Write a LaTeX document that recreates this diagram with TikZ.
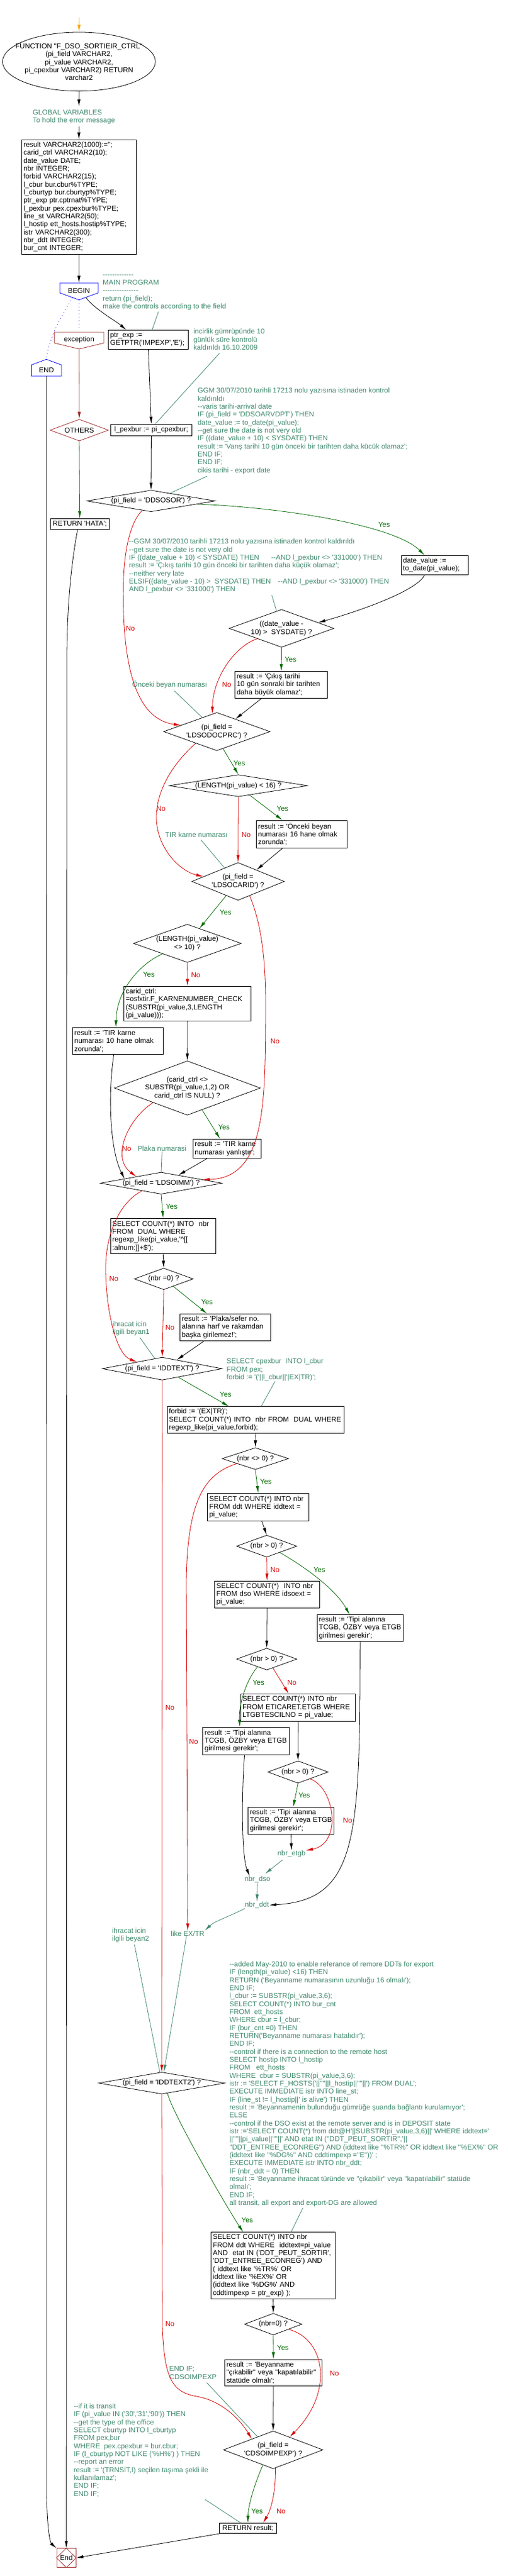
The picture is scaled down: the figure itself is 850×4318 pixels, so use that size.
\documentclass[tikz,border=0pt]{standalone}
\usepackage{fontspec}
\setmainfont{Liberation Sans}[Ligatures=TeXOff]
\usetikzlibrary{shapes.geometric,arrows.meta,calc}
\newcommand{\pxu}{0.75pt}
\definecolor{cmtgreen}{RGB}{62,136,108}
\definecolor{yesgreen}{RGB}{0,105,0}
\definecolor{nored}{RGB}{215,0,0}
\definecolor{exred}{RGB}{158,42,42}
\definecolor{startorange}{RGB}{255,165,0}

\begin{document}
\begin{tikzpicture}[
		x=0.75pt, y=-0.75pt, line width=0.6pt,
		font=\fontsize{8.9}{10}\selectfont,
		process/.style={rectangle, draw, inner xsep=2.25pt, inner ysep=1pt, align=left},
		box/.style n args={3}{process, minimum width=#1*\pxu, minimum height=#2*\pxu, text width=#3},
		box1/.style 2 args={process, align=center, minimum width=#1*\pxu, minimum height=#2*\pxu},
		decision/.style n args={3}{diamond, draw, inner sep=0pt, align=center,
			minimum width=#1*\pxu, minimum height=#2*\pxu, aspect=#3},
		comment/.style={text=cmtgreen, inner sep=0pt, align=left, anchor=north west},
		cmtnode/.style={text=cmtgreen, inner sep=0pt},
		cmtline/.style={draw=cmtgreen},
		dotline/.style={draw=blue, dash pattern=on 0.8pt off 3.5pt},
		arr/.style={-{Latex[length=9pt,width=4pt]}},
		yesarr/.style={arr, draw=yesgreen},
		noarr/.style={arr, draw=nored},
		yeslabel/.style={text=yesgreen, inner sep=0pt},
		nolabel/.style={text=nored, inner sep=0pt}
	]
  \useasboundingbox (0,0) rectangle (850,4318);

  % header and declarations
  \coordinate (start) at (132.8,29);
  \node (func) [ellipse, draw, minimum width=256*\pxu, minimum height=98.7*\pxu] at (132.3,103.3) {};
  \node (func_label) [align=center] at (132.3,104) {FUNCTION "F\_DSO\_SORTIEIR\_CTRL"\\(pi\_field VARCHAR2,\\pi\_value VARCHAR2,\\pi\_cpexbur VARCHAR2) RETURN\\varchar2};
  \node (globals) [comment] at (54.5,182.5) {\strut GLOBAL VARIABLES\\To hold the error message};
  \node (vars) [box={191.9}{191.7}{139.4pt}] at (132.25,330.15) {result VARCHAR2(1000):='';\\carid\_ctrl VARCHAR2(10);\\date\_value DATE;\\nbr INTEGER;\\forbid VARCHAR2(15);\\l\_cbur bur.cbur\%TYPE;\\l\_cburtyp bur.cburtyp\%TYPE;\\ptr\_exp ptr.cptrnat\%TYPE;\\l\_pexbur pex.cpexbur\%TYPE;\\line\_st VARCHAR2(50);\\l\_hostip~ett\_hosts.hostip\%TYPE;\\istr VARCHAR2(300);\\nbr\_ddt INTEGER;\\bur\_cnt INTEGER;};

  % begin, exception, end
  \node (begin) at (132.3,487) {BEGIN};
  \coordinate (begin_n) at (132.3,474.3);
  \coordinate (begin_s) at (132.3,502.7);
  \coordinate (begin_l) at (122,498.9);
  \coordinate (begin_r) at (143.7,498.5);
  \draw[blue] (100.3,474.3) -- (164.3,474.3) -- (164.3,491) -- (begin_s) -- (100.3,491) -- cycle;
  \node (maincmt) [comment] at (171.8,454.5) {\strut-------------\\MAIN PROGRAM\\---------------\\return (pi\_field);\\make the controls according to the field};
  \node (exception) at (132.5,569) {exception};
  \coordinate (exc_n) at (132.5,557);
  \coordinate (exc_s) at (132.5,585);
  \draw[exred] (91.1,557) -- (174,557) -- (174,575) -- (exc_s) -- (91.1,575) -- cycle;
  \node (endp) at (77.8,620) {END};
  \coordinate (endp_n) at (77.8,602.3);
  \coordinate (endp_s) at (77.8,630.3);
  \draw[blue] (endp_n) -- (103,611.7) -- (103,630.3) -- (52.6,630.3) -- (52.6,611.7) -- cycle;
  \node (others) [decision={97.6}{36.3}{2.69}, draw=exred] at (132.8,721) {OTHERS};
  \node (rethata) [box1={99.2}{18}] at (133.6,878.3) {RETURN 'HATA';};

  % main program
  \node (ptrexp) [box={133.9}{32.4}{95.9pt}] at (248.55,569.5) {ptr\_exp :=\\GETPTR('IMPEXP','E');};
  \node (incirlik) [comment] at (323.6,550.2) {\strut incirlik gümrüpünde 10\\günlük süre kontrolü\\kaldırıldı 16.10.2009};
  \node (pexbur) [box1={136.1}{19}] at (253.45,720.5) {l\_pexbur := pi\_cpexbur;};
  \node (ggm) [comment] at (330.7,649.2) {\strut GGM 30/07/2010 tarihli 17213 nolu yazısına istinaden kontrol\\kaldırıldı\\--varis tarihi-arrival date\\IF (pi\_field = 'DDSOARVDPT') THEN\\date\_value := to\_date(pi\_value);\\--get sure the date is not very old\\IF ((date\_value + 10) < SYSDATE) THEN\\result := 'Varış tarihi 10 gün önceki bir tarihten daha kücük olamaz';\\END IF;\\END IF;\\cikis tarihi - export date};
  \node (ddsosor) [decision={215.2}{36}{5.98}] at (253,839.7) {(pi\_field = 'DDSOSOR') ?};
  \node (datevalue) [box={112.2}{32.3}{79.65pt}] at (728.3,947.15) {date\_value :=\\to\_date(pi\_value);};
  \node (ggm2) [comment] at (215.8,902.2) {\strut--GGM 30/07/2010 tarihli 17213 nolu yazısına istinaden kontrol kaldırıldı\\--get sure the date is not very old\\IF ((date\_value + 10) < SYSDATE) THEN\hspace{15pt}--AND l\_pexbur <> '331000') THEN\\result := 'Çıkış tarihi 10 gün önceki bir tarihten daha küçük olamaz';\\--neither very late\\ELSIF((date\_value - 10) >\ \ SYSDATE) THEN\hspace{9pt}--AND l\_pexbur <> '331000') THEN\\AND l\_pexbur <> '331000') THEN};
  \node (date10) [decision={175.6}{63.4}{2.77}] at (471.6,1053.3) {((date\_value -\\10) >\ \ SYSDATE) ?};
  \node (res1) [box={155.2}{44.3}{111.9pt}] at (471.1,1147.85) {result := 'Çıkış tarihi\\10~gün~sonraki~bir~tarihten\\daha büyük olamaz';};
  \node (onceki) [cmtnode] at (284.3,1147.7) {Önceki beyan numarası};
  \node (docprc) [decision={178.2}{64}{2.78}] at (363.2,1226.3) {(pi\_field =\\'LDSODOCPRC') ?};
  \node (len16) [decision={231.9}{36.7}{6.32}] at (399.3,1317) {(LENGTH(pi\_value) < 16) ?};
  \node (res2) [box={151.5}{46.7}{109.1pt}] at (505.15,1398.35) {result := 'Önceki beyan\\numarası~16~hane~olmak\\zorunda';};
  \node (tir) [cmtnode] at (329,1399) {TIR karne numarası};
  \node (carid) [decision={154.8}{63.3}{2.45}] at (398.8,1477.5) {(pi\_field =\\'LDSOCARID') ?};
  \node (len10) [decision={180.5}{64}{2.82}] at (313.8,1581.3) {(LENGTH(pi\_value)\\<> 10) ?};
  \node (caridbox) [box={213}{58.4}{155.25pt}] at (314.1,1682.5) {carid\_ctrl:\\=osfxtir.F\_KARNENUMBER\_CHECK\\(SUBSTR(pi\_value,3,LENGTH\\(pi\_value)));};
  \node (res3) [box={152}{45}{109.5pt}] at (197.7,1745.2) {result := 'TIR karne\\numarası~10~hane~olmak\\zorunda';};
  \node (caridchk) [decision={244.7}{91}{2.69}] at (313.8,1823.8) {(carid\_ctrl <>\\SUBSTR(pi\_value,1,2) OR\\carid\_ctrl IS NULL) ?};
  \node (res4) [box={113.9}{32.4}{80.9pt}] at (380.25,1925.5) {result~:=~'TIR~karne\\numarası~yanlıştır';};
  \node (plaka) [cmtnode] at (271.4,1925.7) {Plaka numarasi};
  \node (imm) [decision={203.9}{36.7}{5.56}] at (270,1983.3) {(pi\_field = 'LDSOIMM') ?};
  \node (regbox) [box={176.3}{59.4}{127.7pt}] at (273.25,2072) {SELECT COUNT(*) INTO\ \ nbr\\FROM\ \ DUAL WHERE\\regexp\_like(pi\_value,'\textasciicircum[[\\:alnum:]]+\$');};
  \node (nbr0) [decision={98.7}{36}{2.74}] at (274.3,2143.7) {(nbr =0) ?};
  \node (res5) [box={152}{45}{109.5pt}] at (377.7,2224.8) {result := 'Plaka/sefer no.\\alanına~harf~ve~rakamdan\\başka girilemez!';};
  \node (ihr1) [comment] at (188.3,2213.5) {\strut ihracat icin\\ilgili beyan1};
  \node (iddtext) [decision={200.7}{38.3}{5.24}] at (271.7,2294.2) {(pi\_field = 'IDDTEXT') ?};
  \node (cpex) [comment] at (379.3,2276.2) {\strut SELECT cpexbur\ \ INTO l\_cbur\\FROM pex;\\forbid := '('||l\_cbur||'|EX|TR)';};
  \node (forbidbox) [box={296.2}{44.6}{217.65pt}] at (428.2,2380) {forbid := '(EX|TR)';\\SELECT~COUNT(*)~INTO\ \ nbr~FROM\ \ DUAL~WHERE\\regexp\_like(pi\_value,forbid);};
  \node (nbrne0) [decision={111.5}{36.6}{3.05}] at (427.8,2445) {(nbr <> 0) ?};
  \node (ddtbox) [box={169.9}{46}{122.9pt}] at (432.55,2526.3) {SELECT COUNT(*) INTO nbr\\FROM ddt WHERE iddtext =\\pi\_value;};
  \node (gt1) [decision={101}{36.7}{2.75}] at (446.8,2591.7) {(nbr > 0) ?};
  \node (dsobox) [box={175.4}{45}{127.05pt}] at (447.3,2672.5) {SELECT COUNT(*)\ \ INTO nbr\\FROM dso WHERE idsoext =\\pi\_value;};
  \node (tipiA) [box={143.7}{44.3}{103.3pt}] at (603.15,2728.85) {result := 'Tipi alanına\\TCGB,~ÖZBY~veya~ETGB\\girilmesi gerekir';};
  \node (gt2) [decision={101}{36.6}{2.75}] at (446.8,2781) {(nbr > 0) ?};
  \node (etgbbox) [box={192.4}{45.7}{139.8pt}] at (499.4,2862.15) {SELECT COUNT(*) INTO nbr\\FROM~ETICARET.ETGB~WHERE\\LTGBTESCILNO = pi\_value;};
  \node (tipiB) [box={144.7}{46.7}{104pt}] at (412.15,2918.35) {result := 'Tipi alanına\\TCGB,~ÖZBY~veya~ETGB\\girilmesi gerekir';};
  \node (gt3) [decision={101.1}{37.3}{2.71}] at (499.2,2970.3) {(nbr > 0) ?};
  \node (tipiC) [box={143.7}{45}{103.3pt}] at (487.45,3051.8) {result := 'Tipi alanına\\TCGB,~ÖZBY~veya~ETGB\\girilmesi gerekir';};
  \node (nbretgb) [cmtnode] at (488.3,3107.7) {nbr\_etgb};
  \node (nbrdso) [cmtnode] at (431.2,3150.7) {nbr\_dso};
  \node (nbrddt) [cmtnode] at (430.5,3193.3) {nbr\_ddt};
  \node (likeextr) [cmtnode] at (314.5,3241) {like EX/TR};
  \node (ihr2) [comment] at (187.4,3230.5) {\strut ihracat icin\\ilgili beyan2};
  \node (iddtext2) [decision={211.2}{36.7}{5.75}] at (271,3491.7) {(pi\_field = 'IDDTEXT2') ?};
  \node (added) [comment] at (383.9,3286.8) {\strut--added May-2010 to enable referance of remore DDTs for export\\IF (length(pi\_value) <16) THEN\\RETURN ('Beyanname numarasının uzunluğu 16 olmalı');\\END IF;\\l\_cbur := SUBSTR(pi\_value,3,6);\\SELECT COUNT(*) INTO bur\_cnt\\FROM\ \ ett\_hosts\\WHERE cbur = l\_cbur;\\IF (bur\_cnt =0) THEN\\RETURN('Beyanname numarası hatalıdır');\\END IF;\\--control if there is a connection to the remote host\\SELECT hostip INTO l\_hostip\\FROM\ \ \ ett\_hosts\\WHERE\ \ cbur = SUBSTR(pi\_value,3,6);\\istr := 'SELECT F\_HOSTS('||''''||l\_hostip||''''||') FROM DUAL';\\EXECUTE IMMEDIATE istr INTO line\_st;\\IF (line\_st != l\_hostip||' is alive') THEN\\result := 'Beyannamenin bulunduğu gümrüğe şuanda bağlantı kurulamıyor';\\ELSE\\--control if the DSO exist at the remote server and is in DEPOSIT state\\istr :='SELECT COUNT(*) from ddt@H'||SUBSTR(pi\_value,3,6)||' WHERE iddtext='\\||''''||pi\_value||''''||' AND etat IN (''DDT\_PEUT\_SORTIR'','||\\''DDT\_ENTREE\_ECONREG'') AND (iddtext like ''\%TR\%'' OR iddtext like ''\%EX\%'' OR\\(iddtext like ''\%DG\%'' AND cddtimpexp =''E''))' ;\\EXECUTE IMMEDIATE istr INTO nbr\_ddt;\\IF (nbr\_ddt = 0) THEN\\result := 'Beyanname ihracat türünde ve "çıkabilir" veya "kapatılabilir" statüde\\olmalı';\\END IF;\\all transit, all export and export-DG are allowed};
  \node (bigbox) [box={208}{111.6}{151.5pt}] at (457.6,3797.5) {SELECT COUNT(*) INTO nbr\\FROM~ddt~WHERE\ \ iddtext=pi\_value\\AND\ \ etat~IN~('DDT\_PEUT\_SORTIR',\\'DDT\_ENTREE\_ECONREG')~AND\\( iddtext like '\%TR\%' OR\\iddtext like '\%EX\%' OR\\(iddtext like '\%DG\%' AND\\cddtimpexp = ptr\_exp) );};
  \node (nbr0b) [decision={96.4}{36.3}{2.66}] at (457.8,3895.8) {(nbr=0) ?};
  \node (res6) [box={163.1}{44.3}{117.8pt}] at (458.05,3977.15) {result := 'Beyanname\\"çıkabilir"~veya~"kapatılabilir"\\statüde olmalı';};
  \node (endif) [comment] at (283.3,3965.2) {\strut END IF;\\CDSOIMPEXP};
  \node (cdso) [decision={166.8}{63.3}{2.64}] at (457.6,4106.5) {(pi\_field =\\'CDSOIMPEXP') ?};
  \node (transit) [comment] at (123.1,4027.8) {\strut--if it is transit\\IF (pi\_value IN ('30','31','90')) THEN\\--get the type of the office\\SELECT cburtyp INTO l\_cburtyp\\FROM pex,bur\\WHERE\ \ pex.cpexbur = bur.cbur;\\IF (l\_cburtyp NOT LIKE ('\%H\%') ) THEN\\--report an error\\result := '(TRNSİT,I) seçilen taşıma şekli ile\\kullanılamaz';\\END IF;\\END IF;};
  \node (retres) [box1={95.5}{17.4}] at (415.15,4238) {RETURN result;};
  \node (finish) [rectangle, draw=exred, minimum width=32.2*\pxu, minimum height=31.6*\pxu, inner sep=0pt] at (111.1,4287.5) {End};
  \draw[exred] (finish.north) -- (finish.east) -- (finish.south) -- (finish.west) -- cycle;

  % yes / no labels
  \node (y1) [yeslabel] at (643.5,879) {Yes};
  \node (y2) [yeslabel] at (486.8,1105.7) {Yes};
  \node (y3) [yeslabel] at (400.9,1279) {Yes};
  \node (y4) [yeslabel] at (473.4,1355.7) {Yes};
  \node (y5) [yeslabel] at (377.9,1529.3) {Yes};
  \node (y6) [yeslabel] at (249.3,1633.3) {Yes};
  \node (y7) [yeslabel] at (375.2,1889.3) {Yes};
  \node (y8) [yeslabel] at (287.5,2022.7) {Yes};
  \node (y9) [yeslabel] at (346.7,2182.7) {Yes};
  \node (y10) [yeslabel] at (377.9,2337.7) {Yes};
  \node (y11) [yeslabel] at (445.4,2483.3) {Yes};
  \node (y12) [yeslabel] at (535,2631) {Yes};
  \node (y13) [yeslabel] at (433,2820) {Yes};
  \node (y14) [yeslabel] at (509.7,3009.3) {Yes};
  \node (y15) [yeslabel] at (414.2,3721.7) {Yes};
  \node (y16) [yeslabel] at (473.9,3935) {Yes};
  \node (y17) [yeslabel] at (430.7,4209.3) {Yes};
  \node (n1) [nolabel] at (218.5,1053.3) {No};
  \node (n2) [nolabel] at (379.8,1147.7) {No};
  \node (n3) [nolabel] at (412.4,1399) {No};
  \node (n4) [nolabel] at (269.6,1355.7) {No};
  \node (n5) [nolabel] at (460.6,1745.7) {No};
  \node (n6) [nolabel] at (327.9,1634) {No};
  \node (n7) [nolabel] at (212.2,1925.7) {No};
  \node (n8) [nolabel] at (190.6,2143.3) {No};
  \node (n9) [nolabel] at (284.7,2225.7) {No};
  \node (n10) [nolabel] at (460.6,2631) {No};
  \node (n11) [nolabel] at (489,2820) {No};
  \node (n12) [nolabel] at (582.3,3051.7) {No};
  \node (n13) [nolabel] at (324.2,2919) {No};
  \node (n14) [nolabel] at (284.7,2862.7) {No};
  \node (n15) [nolabel] at (560.2,3978.3) {No};
  \node (n16) [nolabel] at (284.7,3895.7) {No};
  \node (n17) [nolabel] at (470.7,4209.3) {No};

  % connectors
  \draw[arr, draw=startorange] (start) -- (func.north);
  \draw[arr] (func.south) -- ($(func.south |- globals.north)+(0,-4)$);
  \draw[arr] ($(vars.north |- globals.south)+(0,4)$) -- (vars.north);
  \draw[arr] (vars.south) -- (begin_n);
  \draw[arr] (begin_r) .. controls (158,518) and (194,538) .. ($(ptrexp.north)+(-37.1,0)$);
  \draw[cmtline] ($(maincmt.south)+(-10,2)$) -- ($(ptrexp.north)+(6.25,0)$);
  \draw[dotline] (begin_l) .. controls (105,525) and (80,570) .. (endp_n);
  \draw[dotline] (begin_s) -- ($(exc_n)+(0,-4)$);
  \draw[arr, draw=exred] (exc_s) -- (others.north);
  \draw[yesarr] (others.south) -- (rethata.north);
  \draw[arr] (ptrexp.south) -- (pexbur.north);
  \draw[cmtline] ($(incirlik.south)+(-16,5)$) -- ($(pexbur.north)+(6.75,0)$);
  \draw[arr] (pexbur.south) -- (ddsosor.north);
  \draw[cmtline] ($(ggm.south west)+(16.3,3)$) -- (ddsosor.22);
  \draw[yesarr] (ddsosor.-4) .. controls (470,850) and (660,880) .. ($(datevalue.north)+(-17.1,0)$);
  \draw[noarr] (ddsosor.-133) .. controls (214,880) and (205,940) .. (206.5,1010) .. controls (208,1110) and (225,1205) .. (docprc.170);
  \draw[arr] ($(datevalue.south)+(-17.1,0)$) .. controls (700,990) and (600,1025) .. (date10.9);
  \draw[cmtline] ($(ggm2.south west)+(239.6,3)$) -- (date10.106);
  \draw[noarr] (date10.-157) .. controls (390,1085) and (356,1140) .. (docprc.104);
  \draw[yesarr] (date10.south) -- (res1.north);
  \draw[arr] ($(res1.south)+(-32.6,0)$) -- (docprc.34);
  \draw[cmtline] ($(onceki.south)+(8,4)$) -- (docprc.136);
  \draw[yesarr] (docprc.-70) -- (len16.north);
  \draw[noarr] (docprc.-151) .. controls (295,1275) and (262,1320) .. (262,1370) .. controls (262,1420) and (300,1460) .. (carid.172);
  \draw[yesarr] (len16.-40) -- ($(res2.north)+(-32.15,0)$);
  \draw[noarr] (len16.south) -- (carid.north);
  \draw[cmtline] ($(tir.south)+(7.6,4)$) -- (carid.135);
  \draw[arr] ($(res2.south)+(-32.15,0)$) -- (carid.32);
  \draw[yesarr] (carid.-130) -- (len10.51);
  \draw[noarr] (carid.-51) .. controls (436,1545) and (446,1600) .. (445,1700) .. controls (444,1850) and (445,1975) .. (imm.5);
  \draw[noarr] (len10.south) -- (caridbox.north);
  \draw[yesarr] (len10.-157) .. controls (235,1615) and (195,1660) .. ($(res3.north)+(-3.5,0)$);
  \draw[arr] (caridbox.south) -- (caridchk.north);
  \draw[arr] ($(res3.south)+(-7.1,0)$) .. controls (180,1840) and (185,1930) .. (imm.173);
  \draw[yesarr] (caridchk.-56) -- ($(res4.north)+(-11.55,0)$);
  \draw[noarr] (caridchk.-157) .. controls (215,1875) and (185,1940) .. (imm.165);
  \draw[cmtline] (plaka.south) -- (imm.north);
  \draw[arr] ($(res4.south)+(-33.55,0)$) -- (imm.25);
  \draw[yesarr] (imm.south) -- (regbox.north);
  \draw[noarr] (imm.-158) .. controls (200,2015) and (176,2070) .. (177,2130) .. controls (178,2200) and (195,2270) .. (iddtext.165);
  \draw[arr] (regbox.south) -- (nbr0.north);
  \draw[yesarr] (nbr0.-38) -- ($(res5.north)+(-31,0)$);
  \draw[noarr] (nbr0.south) -- (iddtext.north);
  \draw[arr] ($(res5.south)+(-35.6,0)$) -- (iddtext.31);
  \draw[cmtline] ($(ihr1.south)+(14.5,2.5)$) -- (iddtext.126);
  \draw[yesarr] (iddtext.-28) -- ($(forbidbox.north)+(-44.8,0)$);
  \draw[cmtline] (cpex.south) -- ($(forbidbox.north)+(9.4,0)$);
  \draw[arr] (forbidbox.south) -- (nbrne0.north);
  \draw[yesarr] (nbrne0.south) -- (ddtbox.north);
  \draw[noarr] (nbrne0.-165) .. controls (345,2470) and (314,2510) .. (312,2650) -- (likeextr.north);
  \draw[noarr] (iddtext.south) -- (iddtext2.north);
  \draw[arr] ($(ddtbox.south)+(6,0)$) -- (gt1.north);
  \draw[noarr] (gt1.south) -- (dsobox.north);
  \draw[yesarr] (gt1.-26) .. controls (500,2620) and (560,2660) .. ($(tipiA.north)+(-17.65,0)$);
  \draw[arr] (dsobox.south) -- (gt2.north);
  \draw[arr] (tipiA.south) .. controls (603,3080) and (600,3185) .. (nbrddt.east);
  \draw[noarr] (gt2.-55) -- ($(etgbbox.north)+(-15.9,0)$);
  \draw[yesarr] (gt2.-140) .. controls (410,2820) and (400,2860) .. ($(tipiB.north)+(-10.35,0)$);
  \draw[arr] (etgbbox.south) -- (gt3.north);
  \draw[yesarr] (gt3.south) -- ($(tipiC.north)+(3.8,0)$);
  \draw[noarr] (gt3.-30) .. controls (560,2995) and (575,3090) .. (nbretgb.north east);
  \draw[arr] (tipiC.south) -- (nbretgb.north);
  \draw[arr, draw=cmtgreen] ($(nbretgb.south)+(-15,4)$) -- ($(nbrdso.north)+(13,-4)$);
  \draw[arr] ($(tipiB.south)+(-2.55,0)$) .. controls (405,3000) and (404,3110) .. ($(nbrdso.north)+(-13,0)$);
  \draw[arr, draw=cmtgreen] (nbrdso.south) -- (nbrddt.north);
  \draw[arr, draw=cmtgreen] (nbrddt.south west) .. controls (385,3212) and (360,3220) .. (likeextr.north east);
  \draw[cmtline] ($(ihr2.south)+(6.4,3)$) -- ($(iddtext2.north)+(-3.3,0)$);
  \draw[arr, draw=cmtgreen] ($(likeextr.south)+(-2.2,0)$) -- ($(iddtext2.north)+(3.6,0)$);
  \draw[yesarr] (iddtext2.-61) .. controls (290,3545) and (380,3700) .. ($(bigbox.north)+(-50.3,0)$);
  \draw[cmtline] ($(added.south west)+(123.5,1.5)$) -- ($(bigbox.north)+(30.1,0)$);
  \draw[arr] (bigbox.south) -- (nbr0b.north);
  \draw[yesarr] (nbr0b.south) -- (res6.north);
  \draw[noarr] (nbr0b.-19) .. controls (545,3920) and (560,4010) .. (cdso.38);
  \draw[noarr] (iddtext2.south) -- (272,3900) .. controls (275,3990) and (290,4010) .. (330,4017) .. controls (375,4025) and (405,4060) .. (cdso.153);
  \draw[arr] (res6.south) -- (cdso.north);
  \draw[cmtline] ($(endif.south east)+(-17,5)$) -- (cdso.140);
  \draw[yesarr] (cdso.-124) .. controls (430,4155) and (416,4195) .. (retres.north);
  \draw[noarr] (cdso.-83) .. controls (462,4175) and (455,4205) .. ($(retres.north)+(25.65,0)$);
  \draw[cmtline] ($(transit.south east)+(-6,3.5)$) -- ($(retres.north)+(-11.95,0)$);
  \draw[arr] (retres.south west) -- (finish.east);
  \draw[arr] ($(rethata.south)+(-3.6,0)$) .. controls (122,930) and (112.5,1000) .. (112,1100) -- (finish.north);
  \draw[arr] (endp_s) -- (78,4180) .. controls (79,4240) and (84,4262) .. (finish.north west);
\end{tikzpicture}
\end{document}
